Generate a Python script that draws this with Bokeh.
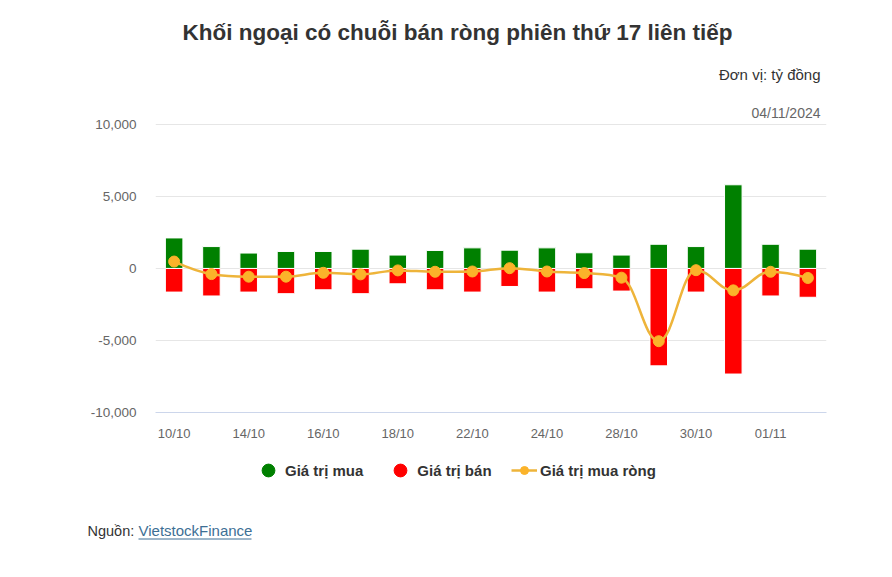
from bokeh.plotting import figure
from bokeh.models import (Range1d, FixedTicker, NumeralTickFormatter, Legend,
                          LegendItem, LinearAxis)
from bokeh.layouts import column
from bokeh.core.properties import value
from bokeh.embed import file_html
from bokeh.resources import INLINE

# ---- data ----
dates = ["10/10", "11/10", "14/10", "15/10", "16/10", "17/10", "18/10", "21/10", "22/10",
         "23/10", "24/10", "25/10", "28/10", "29/10", "30/10", "31/10", "01/11", "04/11"]
buy = [2120, 1520, 1070, 1180, 1180, 1340, 930, 1250, 1430,
       1270, 1430, 1090, 930, 1680, 1520, 5810, 1680, 1340]
sell = [-1640, -1910, -1640, -1750, -1480, -1750, -1065, -1480, -1640,
        -1250, -1640, -1410, -1570, -6760, -1640, -7330, -1910, -2000]
net = [480, -390, -570, -570, -300, -410, -135, -230, -210,
       20, -210, -320, -640, -5050, -120, -1520, -230, -660]
y_ticks = [-10000, -5000, 0, 5000, 10000]
y_min, y_max = -10000, 10000

title_text = "Khối ngoại có chuỗi bán ròng phiên thứ 17 liên tiếp"
unit_text = "Đơn vị: tỷ đồng"
date_text = "04/11/2024"
series_names = ["Giá trị mua", "Giá trị bán", "Giá trị mua ròng"]

GREEN = "#008000"
RED = "#ff0000"
LINE = "#eeb43a"
DOT = "#fbb32a"
FONT = "Liberation Sans"
W = 890

# page-pixel layout of the plotting area
HEAD_H = 104
PLOT_L, PLOT_R = 155, 826
AXIS_TOP_PX, AXIS_BOT_PX = 124, 413   # pixel rows of y_max / y_min


def blank_fig(h):
    f = figure(width=W, height=h, output_backend="svg", toolbar_location=None,
               x_range=Range1d(0, W), y_range=Range1d(h, 0),
               x_axis_location=None, y_axis_location=None,
               min_border_left=0, min_border_right=0, min_border_top=0, min_border_bottom=0)
    f.outline_line_color = None
    f.xgrid.visible = False
    f.ygrid.visible = False
    f.border_fill_color = "white"
    f.frame_align = False
    return f


# ---- header ----
head = blank_fig(HEAD_H)
head.text(x=[457], y=[32], text=[title_text], text_align="center", text_baseline="middle",
          text_font=value(FONT), text_font_size="22.5px", text_font_style="bold",
          text_color="#333333")
head.text(x=[820], y=[74], text=[unit_text], text_align="right", text_baseline="middle",
          text_font=value(FONT), text_font_size="15px", text_color="#333333")

# ---- main chart ----
xs = list(range(len(dates)))
MAIN_H = 339
# frame starts at HEAD_H; extend the top of the value range so y_max sits at AXIS_TOP_PX
y_top = y_min + (y_max - y_min) * (AXIS_BOT_PX - HEAD_H) / (AXIS_BOT_PX - AXIS_TOP_PX)
p = figure(width=W, height=MAIN_H, output_backend="svg", toolbar_location=None,
           x_range=Range1d(-0.5, len(dates) - 0.5), y_range=Range1d(y_min, y_top),
           x_axis_location=None, y_axis_location=None,
           min_border_left=PLOT_L, min_border_right=W - PLOT_R, min_border_top=0,
           min_border_bottom=MAIN_H - (AXIS_BOT_PX - HEAD_H))
p.outline_line_color = None
p.border_fill_color = "white"
p.frame_align = False
p.extra_x_ranges = {"px": Range1d(PLOT_L, PLOT_R)}
p.extra_y_ranges = {"px": Range1d(AXIS_BOT_PX, HEAD_H)}

xaxis = LinearAxis(ticker=FixedTicker(ticks=xs[::2]),
                   major_label_overrides={i: dates[i] for i in xs[::2]})
xaxis.axis_line_color = "#ccd6eb"
xaxis.major_tick_line_color = None
xaxis.major_tick_out = 0
xaxis.major_tick_in = 0
xaxis.minor_tick_line_color = None
xaxis.major_label_standoff = 13
xaxis.major_label_text_font = FONT
xaxis.major_label_text_font_size = "13px"
xaxis.major_label_text_color = "#666666"
p.add_layout(xaxis, "below")

yaxis = LinearAxis(ticker=FixedTicker(ticks=y_ticks), formatter=NumeralTickFormatter(format="0,0"))
yaxis.axis_line_color = None
yaxis.major_tick_line_color = None
yaxis.major_tick_out = 0
yaxis.major_tick_in = 0
yaxis.minor_tick_line_color = None
yaxis.major_label_standoff = 19
yaxis.major_label_text_font = FONT
yaxis.major_label_text_font_size = "13.5px"
yaxis.major_label_text_color = "#666666"
p.add_layout(yaxis, "left")

p.xgrid.visible = False
p.ygrid.ticker = FixedTicker(ticks=y_ticks)
p.ygrid.grid_line_color = "#e6e6e6"

p.text(x=[820], y=[113], text=[date_text], x_range_name="px", y_range_name="px",
       text_align="right", text_baseline="middle", text_font=value(FONT),
       text_font_size="14px", text_color="#666666")

p.vbar(x=xs, top=buy, bottom=0, width=0.47, fill_color=GREEN, line_color="white", line_width=1)
p.vbar(x=xs, top=0, bottom=sell, width=0.47, fill_color=RED, line_color="white", line_width=1)


def spline(xv, yv, smoothing=1.5):
    """Highcharts-style spline control points."""
    n = len(xv)
    lc = [None] * n
    rc = [None] * n
    for i in range(1, n - 1):
        px, py = xv[i], yv[i]
        lx, ly = xv[i - 1], yv[i - 1]
        nx, ny = xv[i + 1], yv[i + 1]
        d = smoothing + 1
        lcx = (smoothing * px + lx) / d
        lcy = (smoothing * py + ly) / d
        rcx = (smoothing * px + nx) / d
        rcy = (smoothing * py + ny) / d
        corr = ((rcy - lcy) * (rcx - px)) / (rcx - lcx) + py - rcy
        lcy += corr
        rcy += corr
        if lcy > ly and lcy > py:
            lcy = max(ly, py); rcy = 2 * py - lcy
        elif lcy < ly and lcy < py:
            lcy = min(ly, py); rcy = 2 * py - lcy
        if rcy > ny and rcy > py:
            rcy = max(ny, py); lcy = 2 * py - rcy
        elif rcy < ny and rcy < py:
            rcy = min(ny, py); lcy = 2 * py - rcy
        lc[i] = (lcx, lcy)
        rc[i] = (rcx, rcy)
    seg = dict(x0=[], y0=[], x1=[], y1=[], cx0=[], cy0=[], cx1=[], cy1=[])
    for i in range(1, n):
        c0 = rc[i - 1] or (xv[i - 1], yv[i - 1])
        c1 = lc[i] or (xv[i], yv[i])
        seg["x0"].append(xv[i - 1]); seg["y0"].append(yv[i - 1])
        seg["x1"].append(xv[i]); seg["y1"].append(yv[i])
        seg["cx0"].append(c0[0]); seg["cy0"].append(c0[1])
        seg["cx1"].append(c1[0]); seg["cy1"].append(c1[1])
    return seg


p.bezier(line_color=LINE, line_width=2.5, **spline(xs, net))
p.scatter(x=xs, y=net, size=11, marker="circle", fill_color=DOT, line_color=DOT)

# ---- footer: legend + source ----
FOOT_H = 132
foot = blank_fig(FOOT_H)
# legend-only renderers: a single point placed outside the visible range
off = dict(x=[-1000], y=[-1000])
lg_buy = foot.scatter(marker="circle", size=14, fill_color=GREEN, line_color=GREEN, **off)
lg_sell = foot.scatter(marker="circle", size=14, fill_color=RED, line_color=RED, **off)
lg_line = foot.line(line_color=LINE, line_width=2.5, **off)
lg_dot = foot.scatter(marker="circle", size=9, fill_color=DOT, line_color=DOT, **off)
leg_style = dict(orientation="horizontal", padding=0, margin=0, background_fill_alpha=0,
                 border_line_alpha=0, label_text_font=FONT, label_text_font_size="15px",
                 label_text_font_style="bold", label_text_color="#333333")
legend_a = Legend(items=[LegendItem(label=series_names[0], renderers=[lg_buy]),
                         LegendItem(label=series_names[1], renderers=[lg_sell])],
                  location=(252, FOOT_H - 43), glyph_width=32, glyph_height=32,
                  label_standoff=1, spacing=21, **leg_style)
legend_b = Legend(items=[LegendItem(label=series_names[2], renderers=[lg_line, lg_dot])],
                  location=(511, FOOT_H - 37), glyph_width=26, glyph_height=20,
                  label_standoff=3, spacing=0, **leg_style)
foot.add_layout(legend_a, "center")
foot.add_layout(legend_b, "center")

foot.text(x=[87], y=[87], text=["Nguồn:"], text_align="left", text_baseline="middle",
          text_font=value(FONT), text_font_size="14.5px", text_color="#333333")
foot.text(x=[138], y=[87], text=["VietstockFinance"], text_align="left", text_baseline="middle",
          text_font=value(FONT), text_font_size="15px", text_color="#3d6f95")
foot.segment(x0=[138], y0=[95.5], x1=[251], y1=[95.5], line_color="#3d6f95", line_width=1)

layout = column(head, p, foot, spacing=0)
open("out.html", "w").write(file_html(layout, INLINE))
